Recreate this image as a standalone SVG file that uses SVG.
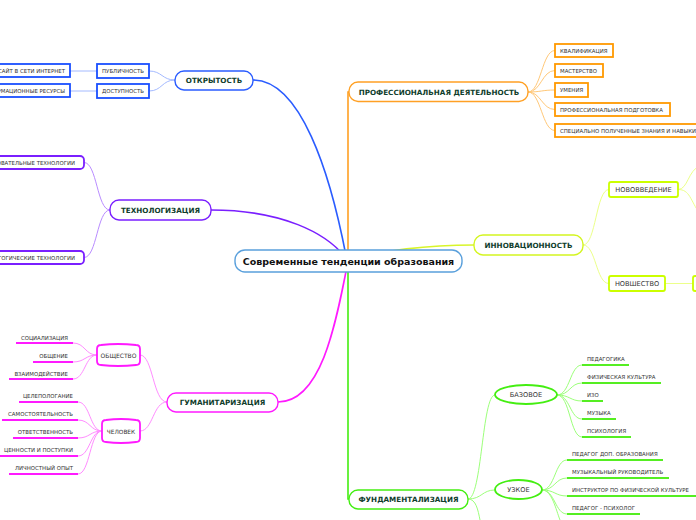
<svg xmlns="http://www.w3.org/2000/svg" width="696" height="520" viewBox="0 0 696 520">
<style>
text{font-family:"DejaVu Sans","Noto Sans",sans-serif;fill:#333}
.main{font-size:7.2px;font-weight:bold;fill:#0f3d2c;text-anchor:middle}
.mid{font-size:6.6px;text-anchor:middle}
.leaf{font-size:5.4px}
.c{fill:none;stroke-width:1}
.m{fill:none;stroke-width:1.6}
.box{fill:#fff;stroke-width:1.8}
.mn{fill:#fff;stroke-width:1.4}
.ul{stroke-width:2;fill:none}
</style>
<g id="connectors">
<path class="m" stroke="#2a5cff" d="M253,80 C300,80 330,170 347,261"/>
<path class="m" stroke="#ffa024" d="M348,261 V92 H352"/>
<path class="m" stroke="#7a1fff" d="M211,210 C280,210 328,232 348,261"/>
<path class="m" stroke="#d8f52a" d="M348,261 C380,250 430,245 474,245"/>
<path class="m" stroke="#ff1aff" d="M278,402 C320,402 335,330 348,261"/>
<path class="m" stroke="#44ee11" d="M348,261 V499 H352"/>
<g stroke="#ffc878" class="c">
<path d="M528,92 C541,92 542,50.5 555,50.5"/>
<path d="M528,92 C541,92 542,70.5 555,70.5"/>
<path d="M528,92 C541,92 542,90 555,90"/>
<path d="M528,92 C541,92 542,109.5 555,109.5"/>
<path d="M528,92 C541,92 542,130.5 555,130.5"/>
</g>
<g stroke="#a4baff" class="c">
<path d="M175,80 C162,80 162,71 149,71"/>
<path d="M175,80 C162,80 162,91 149,91"/>
<path d="M97,71 H70"/>
<path d="M97,91 H70"/>
</g>
<g stroke="#b98cff" class="c">
<path d="M110,210 C97,210 97,162.5 84,162.5"/>
<path d="M110,210 C97,210 97,257.5 84,257.5"/>
</g>
<g stroke="#ecff8a" class="c">
<path d="M583,245 C596,245 596,189.5 609,189.5"/>
<path d="M583,245 C596,245 596,283.5 609,283.5"/>
<path d="M678,189.5 C688,189.5 688,170 700,166"/>
<path d="M678,189.5 C690,189.5 690,200 700,214"/>
<path d="M665,283.5 H693"/>
</g>
<g stroke="#ff8cff" class="c">
<path d="M167,402 C153,402 153,355 140,355"/>
<path d="M167,402 C153,402 153,431 140,431"/>
<path d="M97,355 C85,355 85,343 73,343"/>
<path d="M97,355 C85,355 85,362 73,362"/>
<path d="M97,355 C85,355 85,379 73,379"/>
<path d="M102,431 C90,431 90,402 78,402"/>
<path d="M102,431 C90,431 90,420 78,420"/>
<path d="M102,431 C90,431 90,438 78,438"/>
<path d="M102,431 C90,431 90,456 78,456"/>
<path d="M102,431 C90,431 90,474 78,474"/>
</g>
<g stroke="#9cff7a" class="c">
<path d="M468,499 C482,499 482,395 495,395"/>
<path d="M468,499 C482,499 482,490 495,490"/>
<path d="M468,499 C476,499 478,510 480,520"/>
<path d="M557,395 C570,395 570,365 582,365"/>
<path d="M557,395 C570,395 570,383 582,383"/>
<path d="M557,395 C570,395 570,401 582,401"/>
<path d="M557,395 C570,395 570,419 582,419"/>
<path d="M557,395 C570,395 570,437 582,437"/>
<path d="M542,490 C555,490 555,460 567,460"/>
<path d="M542,490 C555,490 555,478 567,478"/>
<path d="M542,490 C555,490 555,496 567,496"/>
<path d="M542,490 C555,490 555,514 567,514"/>
<path d="M542,490 C552,490 556,510 560,520"/>
</g>
</g>
<g id="center">
<rect x="235" y="250" width="227" height="22" rx="10" fill="#fff" stroke="#5aa0dc" stroke-width="1.4"/>
<text x="348.5" y="264.5" text-anchor="middle" style="font-size:9.5px;font-weight:bold;fill:#111">Современные тенденции образования</text>
</g>
<g id="otkrytost">
<rect class="mn" x="175" y="71" width="78" height="19" rx="9" stroke="#2a5cff"/>
<text class="main" x="214" y="83">ОТКРЫТОСТЬ</text>
</g>
<g id="publichnost">
<rect class="box" x="97" y="64" width="52" height="14" stroke="#1a4fff"/>
<text class="leaf" x="123" y="73" text-anchor="middle">ПУБЛИЧНОСТЬ</text>
</g>
<g id="dostupnost">
<rect class="box" x="97" y="84" width="52" height="14" stroke="#1a4fff"/>
<text class="leaf" x="123" y="93" text-anchor="middle">ДОСТУПНОСТЬ</text>
</g>
<g id="sait">
<rect class="box" x="-20" y="64" width="90" height="13" stroke="#1a4fff"/>
<text class="leaf" x="65" y="72.5" text-anchor="end">САЙТ В СЕТИ ИНТЕРНЕТ</text>
</g>
<g id="resursy">
<rect class="box" x="-20" y="84" width="90" height="13" stroke="#1a4fff"/>
<text class="leaf" x="65" y="92.5" text-anchor="end">ИНФОРМАЦИОННЫЕ РЕСУРСЫ</text>
</g>
<g id="tehnologizatsiya">
<rect class="mn" x="110" y="200" width="101" height="20" rx="9" stroke="#7a1fff"/>
<text class="main" x="160.5" y="212.5">ТЕХНОЛОГИЗАЦИЯ</text>
</g>
<g id="obr-tech">
<rect class="box" x="-30" y="156" width="114" height="13" rx="4" stroke="#7a1fff"/>
<text class="leaf" x="75" y="164.5" text-anchor="end">ОБРАЗОВАТЕЛЬНЫЕ ТЕХНОЛОГИИ</text>
</g>
<g id="ped-tech">
<rect class="box" x="-30" y="251" width="114" height="13" rx="4" stroke="#7a1fff"/>
<text class="leaf" x="75" y="259.5" text-anchor="end">ПЕДАГОГИЧЕСКИЕ ТЕХНОЛОГИИ</text>
</g>
<g id="prof">
<rect class="mn" x="349" y="82" width="179" height="19.5" rx="9" stroke="#ffa024"/>
<text class="main" x="439" y="94.5">ПРОФЕССИОНАЛЬНАЯ ДЕЯТЕЛЬНОСТЬ</text>
</g>
<g id="kvalifikatsiya">
<rect class="box" x="555" y="44" width="58" height="13" stroke="#ff9900"/>
<text class="leaf" x="560" y="52.5">КВАЛИФИКАЦИЯ</text>
</g>
<g id="masterstvo">
<rect class="box" x="555" y="64" width="48" height="13" stroke="#ff9900"/>
<text class="leaf" x="560" y="72.5">МАСТЕРСТВО</text>
</g>
<g id="umeniya">
<rect class="box" x="555" y="83" width="33" height="14" stroke="#ff9900"/>
<text class="leaf" x="560" y="92">УМЕНИЯ</text>
</g>
<g id="podgotovka">
<rect class="box" x="555" y="103" width="115" height="13" stroke="#ff9900"/>
<text class="leaf" x="560" y="111.5">ПРОФЕССИОНАЛЬНАЯ ПОДГОТОВКА</text>
</g>
<g id="znaniya">
<rect class="box" x="555" y="124" width="160" height="13" stroke="#ff9900"/>
<text class="leaf" x="560" y="132.5">СПЕЦИАЛЬНО ПОЛУЧЕННЫЕ ЗНАНИЯ И НАВЫКИ</text>
</g>
<g id="innovatsionnost">
<rect class="mn" x="474" y="235" width="109" height="20" rx="9" stroke="#d4f520"/>
<text class="main" x="528.5" y="247.5">ИННОВАЦИОННОСТЬ</text>
</g>
<g id="novovvedenie">
<rect class="box" x="609" y="182" width="69" height="15" rx="2" stroke="#ccff00"/>
<text class="mid" x="643.5" y="192">НОВОВВЕДЕНИЕ</text>
</g>
<g id="novshestvo">
<rect class="box" x="609" y="276" width="56" height="15" rx="2" stroke="#ccff00"/>
<text class="mid" x="637" y="286">НОВШЕСТВО</text>
</g>
<g id="novshestvo-child">
<rect class="box" x="693" y="276" width="30" height="15" rx="2" stroke="#ccff00"/>
</g>
<g id="gumanitarizatsiya">
<rect class="mn" x="167" y="393" width="111" height="19" rx="9" stroke="#ff1aff"/>
<text class="main" x="222.5" y="405">ГУМАНИТАРИЗАЦИЯ</text>
</g>
<g id="obshchestvo">
<path class="box" stroke="#ff1aff" d="M97,349 Q97,345 101,345 Q118,343 136,345 Q140,345 140,349 L140,361 Q140,365 136,365 Q118,367 101,365 Q97,365 97,361 Z"/>
<text x="118.5" y="357.5" text-anchor="middle" style="font-size:6px">ОБЩЕСТВО</text>
</g>
<g id="chelovek">
<path class="box" stroke="#ff1aff" d="M102,424 Q102,420 106,420 Q121,418 136,420 Q140,420 140,424 L140,438 Q140,442 136,442 Q121,444 106,442 Q102,442 102,438 Z"/>
<text x="121" y="433.5" text-anchor="middle" style="font-size:5.8px">ЧЕЛОВЕК</text>
</g>
<g id="hum-leaves" stroke="#ff1aff">
<path class="ul" d="M16,343 H73 M33,362 H73 M9,379 H73 M19,402 H78 M2,420 H78 M13,438 H78 M0,456 H78 M9,474 H78"/>
<text class="leaf" x="68" y="339.5" text-anchor="end" stroke="none">СОЦИАЛИЗАЦИЯ</text>
<text class="leaf" x="68" y="357.5" text-anchor="end" stroke="none">ОБЩЕНИЕ</text>
<text class="leaf" x="68" y="375.5" text-anchor="end" stroke="none">ВЗАИМОДЕЙСТВИЕ</text>
<text class="leaf" x="73" y="398" text-anchor="end" stroke="none">ЦЕЛЕПОЛОГАНИЕ</text>
<text class="leaf" x="73" y="416" text-anchor="end" stroke="none">САМОСТОЯТЕЛЬНОСТЬ</text>
<text class="leaf" x="73" y="434" text-anchor="end" stroke="none">ОТВЕТСТВЕННОСТЬ</text>
<text class="leaf" x="73" y="452" text-anchor="end" stroke="none">ЦЕННОСТИ И ПОСТУПКИ</text>
<text class="leaf" x="73" y="470" text-anchor="end" stroke="none">ЛИЧНОСТНЫЙ ОПЫТ</text>
</g>
<g id="fundamentalizatsiya">
<rect class="mn" x="349" y="490" width="119" height="19" rx="9" stroke="#44ee11"/>
<text class="main" x="408.5" y="502">ФУНДАМЕНТАЛИЗАЦИЯ</text>
</g>
<g id="bazovoe">
<ellipse cx="526" cy="394.5" rx="31" ry="9.5" fill="#fff" stroke="#44ee11" stroke-width="1.8"/>
<text class="mid" x="526" y="397">БАЗОВОЕ</text>
</g>
<g id="uzkoe">
<ellipse cx="518.5" cy="489.5" rx="23.5" ry="9.5" fill="#fff" stroke="#44ee11" stroke-width="1.8"/>
<text class="mid" x="518.5" y="492">УЗКОЕ</text>
</g>
<g id="fund-leaves" stroke="#55ee22">
<path class="ul" d="M582,365 H629 M582,383 H661 M582,401 H603 M582,419 H616 M582,437 H631 M567,460 H663 M567,478 H669 M567,496 H696 M567,514 H640"/>
<text class="leaf" x="587" y="361" stroke="none">ПЕДАГОГИКА</text>
<text class="leaf" x="587" y="379" stroke="none">ФИЗИЧЕСКАЯ КУЛЬТУРА</text>
<text class="leaf" x="587" y="397" stroke="none">ИЗО</text>
<text class="leaf" x="587" y="415" stroke="none">МУЗЫКА</text>
<text class="leaf" x="587" y="433" stroke="none">ПСИХОЛОГИЯ</text>
<text class="leaf" x="572" y="456" stroke="none">ПЕДАГОГ ДОП. ОБРАЗОВАНИЯ</text>
<text class="leaf" x="572" y="474" stroke="none">МУЗЫКАЛЬНЫЙ РУКОВОДИТЕЛЬ</text>
<text class="leaf" x="572" y="492" stroke="none">ИНСТРУКТОР ПО ФИЗИЧЕСКОЙ КУЛЬТУРЕ</text>
<text class="leaf" x="572" y="510" stroke="none">ПЕДАГОГ - ПСИХОЛОГ</text>
</g>
</svg>
